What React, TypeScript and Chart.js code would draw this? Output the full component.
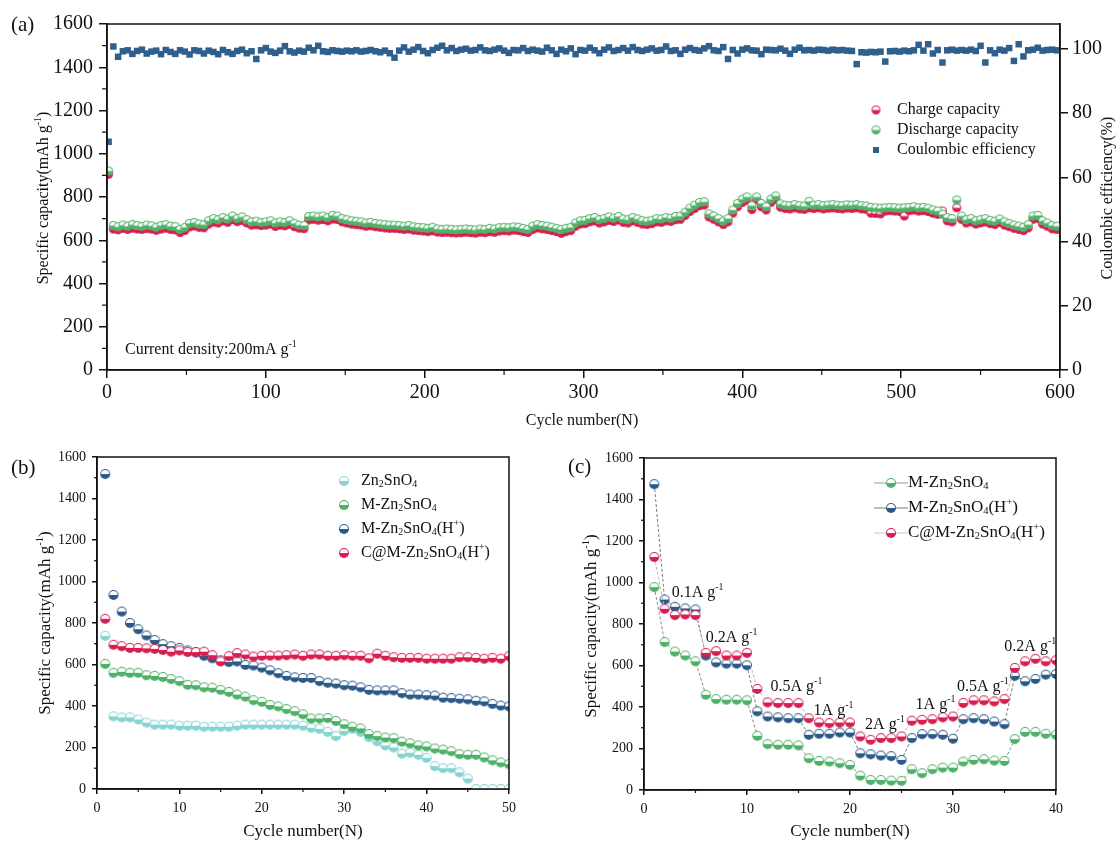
import React, { useEffect, useRef } from 'react';
import { Chart, registerables } from 'chart.js';
Chart.register(...registerables);

const FONT = "'Liberation Serif', 'Times New Roman', serif";

// ---------------- Panel (a) data: cycles 1,4,7,...,598 ----------------
const A_START = 1;
const A_STEP = 3;
const aDischarge = [
  920, 668, 662, 670, 665, 672, 668, 664, 670, 667,
  660, 668, 672, 665, 663, 650, 660, 678, 682, 675,
  672, 690, 700, 695, 705, 698, 712, 700, 708, 695,
  685, 688, 682, 685, 690, 680, 685, 682, 690, 678,
  670, 668, 710, 712, 708, 712, 705, 715, 712, 700,
  695, 690, 688, 685, 680, 682, 678, 675, 672, 670,
  670, 668, 665, 668, 662, 660, 658, 655, 660, 652,
  650, 652, 650, 648, 650, 652, 650, 648, 652, 650,
  655, 652, 658, 660, 658, 662, 660, 655, 650, 665,
  672, 668, 665, 660, 655, 650, 655, 660, 680, 690,
  692, 700, 705, 695, 700, 708, 702, 710, 698, 695,
  705, 698, 690, 688, 692, 700, 698, 705, 702, 710,
  712, 730, 748, 762, 775, 778, 722, 712, 700, 688,
  700, 740, 770, 790, 800, 760, 800, 770, 755, 790,
  805, 768, 762, 760, 765, 760, 758, 780, 762, 765,
  760, 763, 765, 762, 760, 764, 762, 765, 760, 758,
  752, 750, 748, 750, 752, 750, 748, 750, 752, 755,
  750, 752, 748, 740, 735, 720, 705, 700, 786, 712,
  695, 700, 690, 695, 700, 692, 688, 698, 685, 678,
  670, 665, 660, 672, 712, 715, 690, 680, 668, 665,
];
const aCharge = [
  905, 652, 648, 655, 650, 656, 652, 650, 654, 652,
  646, 652, 656, 650, 648, 636, 645, 662, 666, 660,
  658, 675, 684, 680, 690, 683, 696, 686, 692, 680,
  670, 672, 668, 670, 675, 664, 670, 667, 674, 663,
  656, 654, 694, 697, 693, 696, 690, 698, 696, 685,
  680, 675, 672, 670, 665, 667, 663, 660, 657, 655,
  655, 653, 650, 652, 647, 645, 643, 640, 644, 638,
  636, 637, 635, 634, 635, 637, 635, 633, 637, 635,
  640, 637, 643, 645, 643, 647, 645, 640, 636, 650,
  657, 653, 650, 645, 640, 632, 640, 645, 665, 675,
  677, 685, 690, 680, 685, 692, 687, 694, 683, 680,
  690, 683, 675, 673, 677, 685, 683, 690, 687, 695,
  697, 715, 733, 747, 760, 763, 708, 697, 685, 673,
  685, 725, 755, 775, 785, 742, 785, 755, 740, 775,
  790, 753, 747, 745, 750, 745, 743, 750, 747, 750,
  745, 748, 750, 747, 745, 749, 747, 750, 745, 743,
  725, 724, 722, 735, 737, 735, 733, 712, 737, 740,
  735, 737, 733, 725, 720, 735, 690, 685, 750, 697,
  680, 685, 675, 680, 685, 677, 673, 683, 670, 663,
  655, 650, 645, 657, 697, 700, 675, 665, 653, 650,
];
const aCE = [
  71.1, 100.8, 97.6, 99.3, 99.6, 98.5, 99.4, 99.8, 98.6, 99.2,
  99.5, 98.4, 99.7, 99.1, 98.5, 99.6, 99.2, 98.3, 99.6, 99.4,
  98.6, 99.5, 99.1, 98.4, 99.7, 99.0, 98.5, 99.4, 99.8, 98.7,
  99.3, 96.9, 99.6, 100.3, 99.2, 98.8, 99.5, 100.9, 99.3, 98.9,
  99.5, 99.2, 100.4, 99.6, 101.0, 99.3, 99.1, 99.6, 99.4, 99.2,
  99.5, 99.3, 99.6, 99.2, 99.4, 99.7, 99.3, 99.0, 99.5, 98.7,
  97.3, 99.5, 100.5, 99.2, 99.8, 100.6, 99.4, 98.7, 99.7, 100.4,
  101.0, 99.6, 100.3, 99.4, 99.8, 100.1, 99.5, 99.7, 100.5, 99.6,
  99.4, 99.8, 100.2, 99.5, 98.8, 99.7, 99.6, 100.3, 99.4, 99.8,
  99.5, 99.2, 100.4, 99.6, 98.5, 99.8, 99.3, 100.2, 98.4, 99.7,
  99.5, 100.4, 99.6, 98.7, 99.8, 100.5, 99.4, 99.7, 100.3, 99.5,
  100.6, 99.7, 99.4, 99.8, 100.2, 99.5, 99.7, 100.8, 99.4, 99.6,
  98.5, 99.8, 100.3, 99.7, 99.5, 100.2, 100.9, 99.6, 99.4, 100.6,
  96.9, 99.7, 98.6, 99.8, 100.2, 99.6, 99.5, 98.4, 99.8, 99.7,
  99.6, 100.1, 99.5, 98.5, 99.8, 100.4, 99.6, 99.7, 99.5, 99.8,
  99.7, 99.5, 99.8, 99.6, 99.7, 99.5, 99.4, 95.3, 99.0, 98.9,
  99.1, 99.0, 99.2, 96.1, 99.3, 99.4, 99.2, 99.5, 99.3, 99.6,
  101.3, 99.5, 101.5, 98.6, 99.7, 95.8, 99.6, 99.8, 99.5, 99.7,
  99.5, 99.8, 99.4, 101.0, 95.8, 99.6, 98.7, 99.8, 99.5, 100.3,
  96.3, 101.5, 97.7, 99.6, 99.8, 100.4, 99.5, 99.7, 99.8, 99.6,
];
const aCycleTicks = [0, 100, 200, 300, 400, 500, 600];
const aCycleMinor = [50, 150, 250, 350, 450, 550];
const aCapTicks = [0, 200, 400, 600, 800, 1000, 1200, 1400, 1600];
const aCapMinor = [100, 300, 500, 700, 900, 1100, 1300, 1500];
const aCETicks = [0, 20, 40, 60, 80, 100];

// ---------------- Panel (b) data: cycles 1..50 ----------------
const bZn2SnO4 = [
  738, 350, 345, 345, 335, 320, 310, 310, 310, 305,
  305, 305, 300, 300, 300, 300, 305, 310, 310, 310,
  310, 310, 310, 310, 305, 295, 290, 275, 255, 280,
  290, 275, 250, 230, 210, 200, 170, 175, 165, 150,
  110, 100, 100, 80, 50, 0, 0, 0, 0, 0,
];
const bMZn2SnO4 = [
  603, 560, 565, 560, 560, 548, 545, 540, 530, 520,
  502, 500, 490, 488, 478, 468, 455, 445, 428, 420,
  405, 398, 385, 375, 360, 340, 340, 342, 328, 312,
  300, 292, 265, 255, 248, 245, 228, 220, 210, 205,
  195, 190, 182, 168, 165, 165, 152, 138, 128, 120,
];
const bMZnH = [
  1518, 935, 855, 800, 770, 740, 718, 698, 688, 680,
  668, 658, 642, 630, 620, 612, 615, 598, 595, 585,
  572, 558, 545, 538, 535, 535, 520, 512, 508, 500,
  498, 490, 478, 475, 475, 475, 462, 455, 455, 452,
  450, 440, 438, 435, 432, 425, 422, 410, 402, 398,
];
const bCMZnH = [
  820, 695, 688, 680, 680, 678, 675, 670, 662, 668,
  660, 660, 662, 645, 615, 640, 655, 648, 638, 642,
  643, 643, 645, 648, 642, 648, 648, 642, 642, 645,
  642, 642, 630, 652, 642, 635, 632, 632, 632, 628,
  628, 628, 628, 635, 635, 632, 628, 632, 628, 640,
];
const bCycleTicks = [0, 10, 20, 30, 40, 50];
const bCycleMinor = [5, 15, 25, 35, 45];
const bCapTicks = [0, 200, 400, 600, 800, 1000, 1200, 1400, 1600];
const bCapMinor = [100, 300, 500, 700, 900, 1100, 1300, 1500];

// ---------------- Panel (c) data: cycles 1..40 ----------------
const cMZn2SnO4 = [
  978, 713, 667, 648, 620, 459, 438, 435, 435, 432,
  261, 221, 218, 218, 215, 153, 140, 137, 129, 121,
  69, 48, 48, 45, 44, 100, 81, 100, 108, 108,
  137, 145, 148, 142, 140, 245, 280, 280, 271, 266,
];
const cMZnH = [
  1474, 918, 883, 875, 870, 648, 615, 609, 609, 601,
  379, 354, 350, 346, 346, 266, 271, 271, 277, 277,
  177, 172, 166, 163, 145, 250, 269, 269, 266, 247,
  341, 346, 341, 330, 317, 550, 524, 535, 556, 559,
];
const cCMZnH = [
  1123, 873, 843, 846, 843, 661, 669, 648, 648, 661,
  487, 422, 419, 419, 419, 346, 325, 322, 325, 325,
  258, 242, 250, 250, 258, 334, 338, 341, 350, 354,
  419, 432, 432, 427, 438, 588, 620, 632, 620, 625,
];
const cCycleTicks = [0, 10, 20, 30, 40];
const cCycleMinor = [5, 15, 25, 35];
const cCapTicks = [0, 200, 400, 600, 800, 1000, 1200, 1400, 1600];
const cCapMinor = [100, 300, 500, 700, 900, 1100, 1300, 1500];
const cRateLabels = ['0.1A g^{-1}', '0.2A g^{-1}', '0.5A g^{-1}', '1A g^{-1}', '2A g^{-1}', '1A g^{-1}', '0.5A g^{-1}', '0.2A g^{-1}'];
const cRateX = [5.2, 8.5, 14.8, 18.4, 23.4, 28.3, 32.9, 37.5];
const cRateY = [949, 733, 496, 381, 313, 410, 496, 689];

// ---------------- colours ----------------
const RED = '#d81d50';
const GREEN = '#4fb168';
const BLUE = '#2c5a88';
const CYAN = '#86d4d0';
const CE_BLUE = '#2f5f8c';

function halfMarker(color: string, r: number) {
  const c = document.createElement('canvas');
  const s = Math.ceil(r * 2 + 2);
  c.width = s;
  c.height = s;
  const ctx = c.getContext('2d')!;
  const cx = s / 2, cy = s / 2;
  ctx.beginPath();
  ctx.arc(cx, cy, r, 0, Math.PI * 2);
  ctx.fillStyle = color;
  ctx.fill();
  ctx.beginPath();
  ctx.arc(cx, cy, r - 1, Math.PI, Math.PI * 2);
  ctx.closePath();
  ctx.fillStyle = '#ffffff';
  ctx.fill();
  return c;
}

function parseRich(s: string) {
  const out: { t: string; k: number; w?: number }[] = [];
  const re = /(\^|_)\{([^}]*)\}/g;
  let last = 0;
  let m: RegExpExecArray | null;
  while ((m = re.exec(s))) {
    if (m.index > last) out.push({ t: s.slice(last, m.index), k: 0 });
    out.push({ t: m[2], k: m[1] === '^' ? 1 : -1 });
    last = re.lastIndex;
  }
  if (last < s.length) out.push({ t: s.slice(last), k: 0 });
  return out;
}

function drawRich(ctx: CanvasRenderingContext2D, s: string, x: number, y: number, size: number, align = 'left', rotate = 0, color = '#111') {
  const segs = parseRich(s);
  const small = size * 0.62;
  let w = 0;
  for (const g of segs) {
    ctx.font = `${g.k ? small : size}px ${FONT}`;
    g.w = ctx.measureText(g.t).width;
    w += g.w;
  }
  ctx.save();
  ctx.translate(x, y);
  if (rotate) ctx.rotate(rotate);
  let cx = align === 'center' ? -w / 2 : align === 'right' ? -w : 0;
  ctx.textBaseline = 'middle';
  ctx.textAlign = 'left';
  ctx.fillStyle = color;
  for (const g of segs) {
    ctx.font = `${g.k ? small : size}px ${FONT}`;
    const dy = g.k === 1 ? -size * 0.33 : g.k === -1 ? size * 0.22 : 0;
    ctx.fillText(g.t, cx, dy);
    cx += g.w!;
  }
  ctx.restore();
}

type Minor = { axis: string; values: number[]; len: number; side?: string };
type Txt = { s: string; x: number; y: number; size: number; align?: string; rot?: number; data?: boolean };
type Leg = { img?: HTMLCanvasElement; square?: string; mx: number; y: number; tx: number; s: string; size: number; line?: [number, number, string] };

function makeDeco(minors: Minor[], texts: Txt[], legend: Leg[]) {
  return {
    id: 'deco',
    afterDraw(chart: any) {
      const ctx: CanvasRenderingContext2D = chart.ctx;
      const { left, right, top, bottom } = chart.chartArea;
      ctx.save();
      ctx.strokeStyle = '#111';
      ctx.lineWidth = 1.5;
      ctx.strokeRect(left, top, right - left, bottom - top);
      ctx.lineWidth = 1.2;
      for (const m of minors) {
        const sc = chart.scales[m.axis];
        for (const v of m.values) {
          const p = sc.getPixelForValue(v);
          ctx.beginPath();
          if (m.axis.startsWith('x')) {
            ctx.moveTo(p, bottom);
            ctx.lineTo(p, bottom + m.len);
          } else if (m.side === 'right') {
            ctx.moveTo(right, p);
            ctx.lineTo(right + m.len, p);
          } else {
            ctx.moveTo(left, p);
            ctx.lineTo(left - m.len, p);
          }
          ctx.stroke();
        }
      }
      for (const t of texts) {
        let x = t.x, y = t.y;
        if (t.data) {
          x = chart.scales.x.getPixelForValue(t.x);
          y = chart.scales.y.getPixelForValue(t.y);
        }
        drawRich(ctx, t.s, x, y, t.size, t.align || 'left', t.rot || 0);
      }
      for (const l of legend) {
        if (l.line) {
          ctx.strokeStyle = l.line[2];
          ctx.lineWidth = 1.2;
          ctx.beginPath();
          ctx.moveTo(l.line[0], l.y);
          ctx.lineTo(l.line[1], l.y);
          ctx.stroke();
        }
        if (l.img) {
          ctx.drawImage(l.img, l.mx - l.img.width / 2, l.y - l.img.height / 2);
        } else if (l.square) {
          ctx.fillStyle = l.square;
          ctx.fillRect(l.mx - 3, l.y - 3, 6, 6);
        }
        drawRich(ctx, l.s, l.tx, l.y, l.size, 'left');
      }
      ctx.restore();
    },
  };
}

function axisCommon(fontSize: number, tickLen: number, pad: number) {
  return {
    type: 'linear' as const,
    ticks: {
      font: { family: FONT, size: fontSize },
      color: '#111',
      padding: pad,
      maxRotation: 0,
      autoSkip: false,
      callback: (v: any) => String(v),
    },
    grid: { drawOnChartArea: false, drawTicks: true, tickLength: tickLen, color: '#111', lineWidth: 1.5 },
    border: { display: true, color: '#111', width: 1.5 },
  };
}

function setTicks(vals: number[]) {
  return (s: any) => {
    s.ticks = vals.map((v) => ({ value: v }));
  };
}

export default function App() {
  const refA = useRef<HTMLCanvasElement>(null);
  const refB = useRef<HTMLCanvasElement>(null);
  const refC = useRef<HTMLCanvasElement>(null);

  useEffect(() => {
    const charts: Chart[] = [];
    // ---------- Panel (a) ----------
    const mRedA = halfMarker(RED, 4.5);
    const mGreenA = halfMarker(GREEN, 4.5);
    const xsA = (arr: number[]) => arr.map((v, i) => ({ x: A_START + i * A_STEP, y: v }));
    charts.push(
      new Chart(refA.current!, {
        type: 'scatter',
        data: {
          datasets: [
            { label: 'Discharge capacity', data: xsA(aDischarge), yAxisID: 'y', pointStyle: mGreenA as any, showLine: false },
            { label: 'Charge capacity', data: xsA(aCharge), yAxisID: 'y', pointStyle: mRedA as any, showLine: false },
            { label: 'Coulombic efficiency', data: xsA(aCE), yAxisID: 'y1', pointStyle: 'rect', pointRadius: 4.6, backgroundColor: CE_BLUE, borderWidth: 0, showLine: false },
          ],
        },
        options: {
          responsive: false,
          animation: false,
          layout: { padding: { top: 24, left: 0, right: 0, bottom: 0 } },
          plugins: { legend: { display: false }, tooltip: { enabled: false } },
          scales: {
            x: { ...axisCommon(20, 8, 3), min: 0, max: 600, afterBuildTicks: setTicks(aCycleTicks), afterFit: (s: any) => { s.height = 70; } },
            y: { ...axisCommon(20, 8, 6), position: 'left', min: 0, max: 1600, afterBuildTicks: setTicks(aCapTicks), afterFit: (s: any) => { s.width = 107; } },
            y1: { ...axisCommon(20, 8, 4), position: 'right', min: 0, max: 107.8, afterBuildTicks: setTicks(aCETicks), afterFit: (s: any) => { s.width = 58; } },
          } as any,
        },
        plugins: [
          makeDeco(
            [
              { axis: 'x', values: aCycleMinor, len: 5 },
              { axis: 'y', values: aCapMinor, len: 5 },
            ],
            [
              { s: '(a)', x: 11, y: 25, size: 21 },
              { s: 'Specific capacity(mAh g^{-1})', x: 44, y: 198, size: 16, align: 'center', rot: -Math.PI / 2 },
              { s: 'Coulombic efficiency(%)', x: 1108, y: 198, size: 16, align: 'center', rot: -Math.PI / 2 },
              { s: 'Cycle number(N)', x: 582, y: 421, size: 16, align: 'center' },
              { s: 'Current density:200mA g^{-1}', x: 125, y: 350, size: 16 },
            ],
            [
              { img: mRedA, mx: 876, y: 110, tx: 897, s: 'Charge capacity', size: 16 },
              { img: mGreenA, mx: 876, y: 130, tx: 897, s: 'Discharge capacity', size: 16 },
              { square: CE_BLUE, mx: 876, y: 150, tx: 897, s: 'Coulombic efficiency', size: 16 },
            ]
          ) as any,
        ],
      })
    );

    // ---------- Panel (b) ----------
    const mk = (c: string) => halfMarker(c, 5);
    const mCyan = mk(CYAN), mGreen = mk(GREEN), mBlue = mk(BLUE), mRed = mk(RED);
    const xsB = (arr: number[]) => arr.map((v, i) => ({ x: i + 1, y: v }));
    charts.push(
      new Chart(refB.current!, {
        type: 'scatter',
        data: {
          datasets: [
            { label: 'C@M-Zn2SnO4(H+)', data: xsB(bCMZnH), pointStyle: mRed as any },
            { label: 'M-Zn2SnO4(H+)', data: xsB(bMZnH), pointStyle: mBlue as any },
            { label: 'M-Zn2SnO4', data: xsB(bMZn2SnO4), pointStyle: mGreen as any },
            { label: 'Zn2SnO4', data: xsB(bZn2SnO4), pointStyle: mCyan as any },
          ],
        },
        options: {
          responsive: false,
          animation: false,
          layout: { padding: { top: 17, left: 0, right: 51, bottom: 0 } },
          plugins: { legend: { display: false }, tooltip: { enabled: false } },
          scales: {
            x: { ...axisCommon(14, 5, 6), min: 0, max: 50, afterBuildTicks: setTicks(bCycleTicks), afterFit: (s: any) => { s.height = 52; } },
            y: { ...axisCommon(14, 5, 6), position: 'left', min: 0, max: 1600, afterBuildTicks: setTicks(bCapTicks), afterFit: (s: any) => { s.width = 97; } },
          } as any,
        },
        plugins: [
          makeDeco(
            [
              { axis: 'x', values: bCycleMinor, len: 3 },
              { axis: 'y', values: bCapMinor, len: 3 },
            ],
            [
              { s: '(b)', x: 11, y: 28, size: 21 },
              { s: 'Specific capacity(mAh g^{-1})', x: 46, y: 183, size: 17, align: 'center', rot: -Math.PI / 2 },
              { s: 'Cycle number(N)', x: 303, y: 392, size: 17, align: 'center' },
            ],
            [
              { img: mCyan, mx: 344, y: 41, tx: 361, s: 'Zn_{2}SnO_{4}', size: 16 },
              { img: mGreen, mx: 344, y: 65, tx: 361, s: 'M-Zn_{2}SnO_{4}', size: 16 },
              { img: mBlue, mx: 344, y: 89, tx: 361, s: 'M-Zn_{2}SnO_{4}(H^{+})', size: 16 },
              { img: mRed, mx: 344, y: 113, tx: 361, s: 'C@M-Zn_{2}SnO_{4}(H^{+})', size: 16 },
            ]
          ) as any,
        ],
      })
    );

    // ---------- Panel (c) ----------
    const xsC = (arr: number[]) => arr.map((v, i) => ({ x: i + 1, y: v }));
    const rateTexts: Txt[] = cRateLabels.map((s, i) => ({ s, x: cRateX[i], y: cRateY[i], size: 16, align: 'center', data: true }));
    charts.push(
      new Chart(refC.current!, {
        type: 'scatter',
        data: {
          datasets: [
            { label: 'C@M-Zn2SnO4(H+)', data: xsC(cCMZnH), pointStyle: mRed as any, showLine: true, borderColor: '#b5b5b5', borderWidth: 1, borderDash: [3, 2] },
            { label: 'M-Zn2SnO4(H+)', data: xsC(cMZnH), pointStyle: mBlue as any, showLine: true, borderColor: '#7a7a7a', borderWidth: 1, borderDash: [3, 2] },
            { label: 'M-Zn2SnO4', data: xsC(cMZn2SnO4), pointStyle: mGreen as any, showLine: true, borderColor: '#8a8a8a', borderWidth: 1, borderDash: [3, 2] },
          ],
        },
        options: {
          responsive: false,
          animation: false,
          layout: { padding: { top: 18, left: 0, right: 62, bottom: 0 } },
          plugins: { legend: { display: false }, tooltip: { enabled: false } },
          scales: {
            x: { ...axisCommon(14, 5, 6), min: 0, max: 40, afterBuildTicks: setTicks(cCycleTicks), afterFit: (s: any) => { s.height = 51; } },
            y: { ...axisCommon(14, 5, 6), position: 'left', min: 0, max: 1600, afterBuildTicks: setTicks(cCapTicks), afterFit: (s: any) => { s.width = 84; } },
          } as any,
        },
        plugins: [
          makeDeco(
            [
              { axis: 'x', values: cCycleMinor, len: 3 },
              { axis: 'y', values: cCapMinor, len: 3 },
            ],
            [
              { s: '(c)', x: 8, y: 27, size: 21 },
              { s: 'Specific capacity(mAh g^{-1})', x: 32, y: 186, size: 17, align: 'center', rot: -Math.PI / 2 },
              { s: 'Cycle number(N)', x: 290, y: 392, size: 17, align: 'center' },
              ...rateTexts,
            ],
            [
              { img: mGreen, mx: 331, y: 43, tx: 348, s: 'M-Zn_{2}SnO_{4}', size: 17, line: [314, 348, '#9a9a9a'] },
              { img: mBlue, mx: 331, y: 68, tx: 348, s: 'M-Zn_{2}SnO_{4}(H^{+})', size: 17, line: [314, 348, '#7a7a7a'] },
              { img: mRed, mx: 331, y: 93, tx: 348, s: 'C@M-Zn_{2}SnO_{4}(H^{+})', size: 17, line: [314, 348, '#c8c8c8'] },
            ]
          ) as any,
        ],
      })
    );

    return () => charts.forEach((c) => c.destroy());
  }, []);

  return (
    <div style={{ position: 'absolute', left: 0, top: 0, width: 1118, height: 841, background: '#fff' }}>
      <canvas ref={refA} width={1118} height={440} style={{ position: 'absolute', left: 0, top: 0 }} />
      <canvas ref={refB} width={560} height={401} style={{ position: 'absolute', left: 0, top: 440 }} />
      <canvas ref={refC} width={558} height={401} style={{ position: 'absolute', left: 560, top: 440 }} />
    </div>
  );
}
